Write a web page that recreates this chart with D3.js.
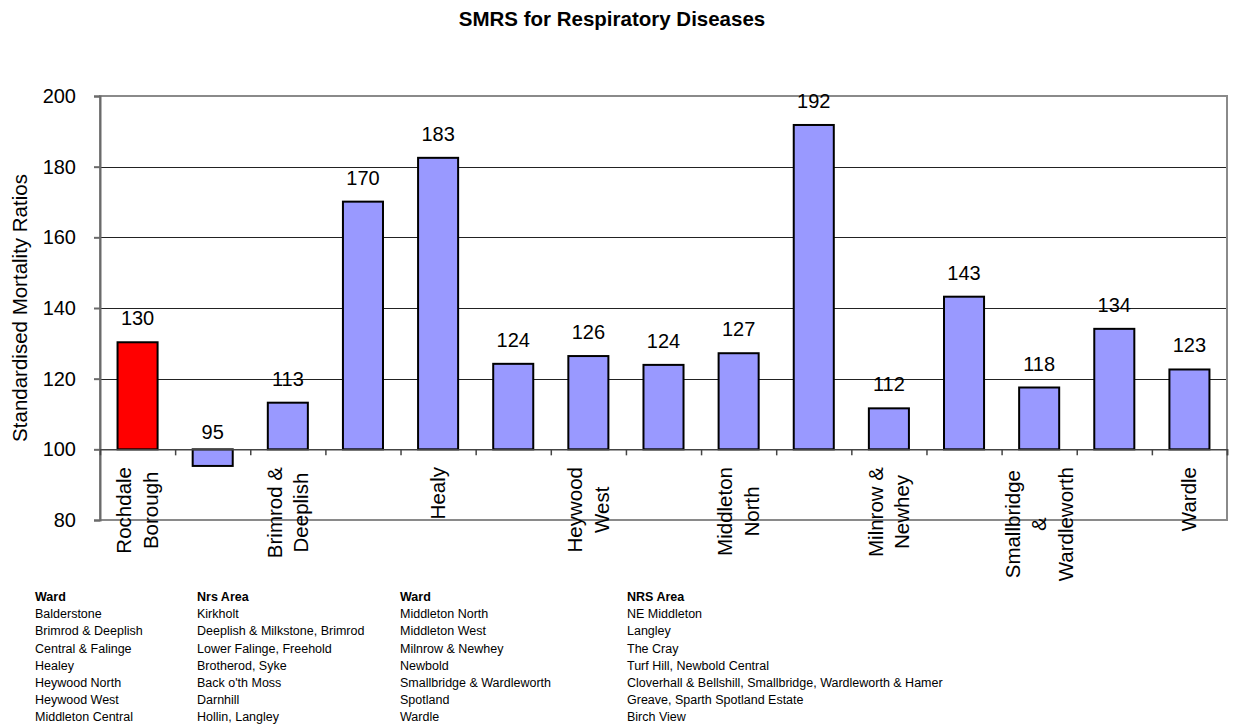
<!DOCTYPE html>
<html>
<head>
<meta charset="utf-8">
<script src="https://cdn.jsdelivr.net/npm/d3@7"></script>
<style>
  body { margin: 0; background: #fff; }
  svg { font-family: "Liberation Sans", Arial, sans-serif; display: block; }
</style>
</head>
<body>
<svg id="chart" width="1233" height="724"></svg>
<script>
// ---- data ----
const categories = ["Rochdale Borough", "Balderstone", "Brimrod & Deeplish", "Central & Falinge", "Healy",
  "Heywood North", "Heywood West", "Middleton Central", "Middleton North", "Middleton West",
  "Milnrow & Newhey", "Newbold", "Smallbridge & Wardleworth", "Spotland", "Wardle"];
const shownLabels = [["Rochdale", "Borough"], [], ["Brimrod &", "Deeplish"], [], ["Healy"], [],
  ["Heywood", "West"], [], ["Middleton", "North"], [], ["Milnrow &", "Newhey"], [],
  ["Smallbridge", "&", "Wardleworth"], [], ["Wardle"]];
const smrValues = [130.3, 95.3, 113.2, 170.1, 182.5, 124.2, 126.4, 123.9, 127.2, 191.8, 111.6, 143.2, 117.5, 134.1, 122.6];
const valueLabels = ["130", "95", "113", "170", "183", "124", "126", "124", "127", "192", "112", "143", "118", "134", "123"];
const yTicks = [80, 100, 120, 140, 160, 180, 200];
const gridValues = [120, 140, 160, 180];
const baseline = 100;

const tableWard1 = ["Balderstone", "Brimrod & Deeplish", "Central & Falinge", "Healey", "Heywood North", "Heywood West", "Middleton Central"];
const tableArea1 = ["Kirkholt", "Deeplish & Milkstone, Brimrod", "Lower Falinge, Freehold", "Brotherod, Syke", "Back o'th Moss", "Darnhill", "Hollin, Langley"];
const tableWard2 = ["Middleton North", "Middleton West", "Milnrow & Newhey", "Newbold", "Smallbridge & Wardleworth", "Spotland", "Wardle"];
const tableArea2 = ["NE Middleton", "Langley", "The Cray", "Turf Hill, Newbold Central", "Cloverhall & Bellshill, Smallbridge, Wardleworth & Hamer", "Greave, Sparth Spotland Estate", "Birch View"];
const tableHeaders = ["Ward", "Nrs Area", "Ward", "NRS Area"];

// ---- layout ----
const svg = d3.select("#chart");
const plot = { left: 100, right: 1227, top: 96, bottom: 520 };

const x = d3.scaleBand().domain(categories).range([plot.left, plot.right])
  .paddingInner(0.467).paddingOuter(0.2335);
const xIdx = d3.scaleLinear().domain([0, categories.length]).range([plot.left, plot.right]);
const y = d3.scaleLinear().domain([80, 200]).range([plot.bottom, plot.top]);

// title
svg.append("text").attr("x", 612).attr("y", 26).attr("text-anchor", "middle")
  .attr("font-size", 20.5).attr("font-weight", "bold").text("SMRS for Respiratory Diseases");

// gridlines
svg.append("g").selectAll("line").data(gridValues).join("line")
  .attr("x1", plot.left).attr("x2", plot.right)
  .attr("y1", d => Math.round(y(d)) + 0.5).attr("y2", d => Math.round(y(d)) + 0.5)
  .attr("stroke", "#222").attr("stroke-width", 1);

// plot frame
svg.append("rect").attr("x", plot.left).attr("y", plot.top)
  .attr("width", plot.right - plot.left).attr("height", plot.bottom - plot.top)
  .attr("fill", "none").attr("stroke", "#8a8a8a").attr("stroke-width", 2);

// y axis
const yAxis = svg.append("g").attr("transform", `translate(${plot.left},0)`)
  .call(d3.axisLeft(y).tickValues(yTicks).tickSize(6).tickPadding(18).tickFormat(d3.format("d")));
yAxis.select(".domain").attr("stroke", "#6a6a6a").attr("stroke-width", 2);
yAxis.selectAll(".tick line").attr("stroke", "#6a6a6a").attr("stroke-width", 2);
yAxis.selectAll(".tick text").attr("font-size", 20).attr("fill", "#000")
  .attr("font-family", "Liberation Sans, Arial, sans-serif");

// y axis title
svg.append("text").attr("transform", `translate(27,${(plot.top + plot.bottom) / 2}) rotate(-90)`)
  .attr("text-anchor", "middle").attr("font-size", 20.5).text("Standardised Mortality Ratios");

// bars
svg.append("g").selectAll("rect").data(smrValues).join("rect")
  .attr("x", (d, i) => x(categories[i]))
  .attr("width", x.bandwidth())
  .attr("y", d => y(Math.max(d, baseline)))
  .attr("height", d => Math.abs(y(d) - y(baseline)))
  .attr("fill", (d, i) => i === 0 ? "#FF0000" : "#9999FF")
  .attr("stroke", "#000").attr("stroke-width", 2);

// category axis at baseline
const xAxis = svg.append("g").attr("transform", `translate(0,${y(baseline)})`)
  .call(d3.axisBottom(xIdx).tickValues(d3.range(1, categories.length + 1)).tickSize(6).tickFormat(""));
xAxis.select(".domain").attr("stroke", "#444").attr("stroke-width", 1.5);
xAxis.selectAll(".tick line").attr("stroke", "#444").attr("stroke-width", 1.5);

// value labels
svg.append("g").selectAll("text").data(smrValues).join("text")
  .attr("x", (d, i) => x(categories[i]) + x.bandwidth() / 2)
  .attr("y", d => d >= baseline ? y(d) - 17 : y(baseline) - 10)
  .attr("text-anchor", "middle").attr("font-size", 20)
  .text((d, i) => valueLabels[i]);

// category labels (rotated, multi-line, centred lines)
const lineGap = 26.5;
const labelTop = 467;
shownLabels.forEach((lines, i) => {
  if (!lines.length) return;
  const cx = x(categories[i]) + x.bandwidth() / 2;
  const g = svg.append("g");
  const texts = lines.map((ln, k) => g.append("text").attr("font-size", 20.5).text(ln));
  const maxLen = d3.max(texts, t => t.node().getComputedTextLength());
  const centerY = labelTop + maxLen / 2;
  texts.forEach((t, k) => {
    const lx = cx + (k - (lines.length - 1) / 2) * lineGap;
    t.attr("text-anchor", "middle")
      .attr("transform", `translate(${lx + 7},${centerY}) rotate(-90)`);
  });
});

// bottom table
const colX = [35, 197, 400, 627];
const rowY0 = 601, rowStep = 17.2;
const cols = [tableWard1, tableArea1, tableWard2, tableArea2];
const table = svg.append("g").attr("font-size", 12.5);
tableHeaders.forEach((h, c) => {
  table.append("text").attr("x", colX[c]).attr("y", rowY0).attr("font-weight", "bold").text(h);
  table.selectAll(null).data(cols[c]).join("text")
    .attr("x", colX[c]).attr("y", (d, r) => rowY0 + (r + 1) * rowStep).text(d => d);
});
</script>
</body>
</html>
